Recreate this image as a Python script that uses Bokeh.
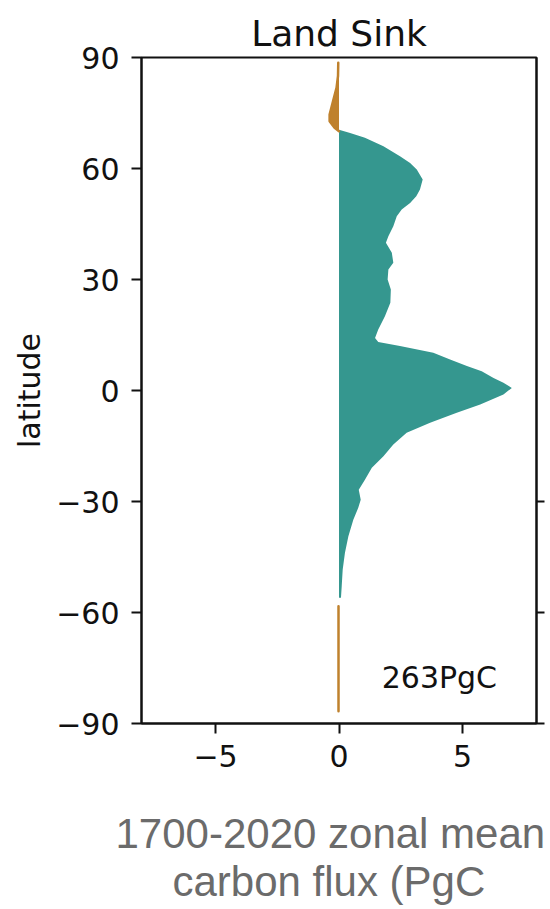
from bokeh.plotting import figure
from bokeh.models import Range1d, FixedTicker, LinearAxis, Label, Title
from bokeh.embed import file_html
from bokeh.resources import INLINE

# ---- data ----
sink_lat = [70.5, 69.6, 68.3, 66.0, 63.3, 61.5, 59.7, 57.0, 54.3, 52.5, 50.7, 48.9,
            47.1, 44.4, 41.7, 39.9, 37.2, 34.5, 32.7, 30.0, 27.3, 23.7, 20.1, 16.5,
            14.2, 13.1, 12.0, 10.2, 8.4, 6.6, 5.2, 3.4, 2.1, 0.7, -1.1, -3.8, -6.0,
            -8.7, -11.4, -14.6, -17.8, -20.9, -24.1, -26.8, -29.5, -31.7, -34.9,
            -39.4, -43.9, -48.4, -52.9, -56.0]
sink_flux = [0.0, 0.45, 1.05, 1.8, 2.47, 2.88, 3.15, 3.39, 3.28, 3.13, 2.88, 2.54,
             2.34, 2.2, 2.0, 1.9, 2.14, 2.2, 2.0, 1.97, 2.1, 2.08, 1.86, 1.59,
             1.46, 1.59, 2.47, 3.82, 4.5, 5.18, 5.78, 6.26, 6.66, 7.0, 6.66, 5.72, 4.77,
             3.69, 2.74, 2.2, 1.8, 1.33, 1.05, 0.8, 0.88, 0.78, 0.58,
             0.38, 0.24, 0.15, 0.11, 0.08]
source_n_lat = [88.6, 85.0, 81.8, 78.2, 74.6, 72.8, 71.0, 70.1]
source_n_flux = [-0.03, -0.04, -0.1, -0.24, -0.38, -0.38, -0.18, 0.0]
source_s_lat = [-58.3, -65.0, -72.0, -79.0, -86.7]
source_s_flux = [-0.02, -0.02, -0.02, -0.02, -0.02]

x_ticks = [-5, 0, 5]
y_ticks = [-90, -60, -30, 0, 30, 60, 90]
right_ticks = [-90, -60, -30]
title_text = "Land Sink"
total_text = "263PgC"
caption_lines = ["1700-2020 zonal mean", "carbon flux (PgC"]

TEAL = "#35978f"
ORANGE = "#bf812d"
FONT = "DejaVu Sans"
INK = "#111111"

p = figure(width=549, height=908, x_range=Range1d(-8, 8), y_range=Range1d(-90, 90),
           output_backend="svg", toolbar_location=None,
           min_border_left=141, min_border_right=13, min_border_top=57,
           min_border_bottom=185)
p.background_fill_color = "white"
p.border_fill_color = "white"
p.grid.visible = False
p.outline_line_color = INK
p.outline_line_width = 2
p.outline_line_alpha = 1

p.title.text = title_text
p.title.align = "center"
p.title.vertical_align = "top"
p.title.text_font = FONT
p.title.text_font_size = "36px"
p.title.text_font_style = "normal"
p.title.text_color = INK
p.title.standoff = 4

# fills
p.harea(x1=0, x2=sink_flux, y=sink_lat, fill_color=TEAL, fill_alpha=1)
p.harea(x1=source_n_flux, x2=0, y=source_n_lat, fill_color=ORANGE, fill_alpha=1)
p.line(x=source_n_flux, y=source_n_lat, line_color=ORANGE, line_width=2.5, line_cap="round")
p.harea(x1=source_s_flux, x2=0, y=source_s_lat, fill_color=ORANGE, fill_alpha=1)
p.line(x=source_s_flux, y=source_s_lat, line_color=ORANGE, line_width=2.5, line_cap="round")

def style_axis(ax):
    ax.axis_line_width = 2
    ax.axis_line_color = INK
    ax.major_tick_line_width = 2
    ax.major_tick_line_color = INK
    ax.major_tick_out = 10
    ax.major_tick_in = 0
    ax.minor_tick_line_color = None
    ax.major_label_text_font = FONT
    ax.major_label_text_font_size = "30px"
    ax.major_label_text_color = INK

xa = p.xaxis[0]
style_axis(xa)
xa.ticker = FixedTicker(ticks=x_ticks)
xa.major_label_overrides = {t: (str(t).replace("-", "\u2212")) for t in x_ticks}
xa.major_label_standoff = 11

ya = p.yaxis[0]
style_axis(ya)
ya.ticker = FixedTicker(ticks=y_ticks)
ya.major_label_overrides = {t: (str(t).replace("-", "\u2212")) for t in y_ticks}
ya.major_label_standoff = 12
ya.axis_label = "latitude"
ya.axis_label_text_font = FONT
ya.axis_label_text_font_size = "30px"
ya.axis_label_text_font_style = "normal"
ya.axis_label_text_color = INK
ya.axis_label_standoff = 6

ra = LinearAxis(ticker=FixedTicker(ticks=right_ticks))
style_axis(ra)
ra.major_tick_out = 8
ra.major_label_text_font_size = "0px"
ra.major_label_overrides = {t: "" for t in right_ticks}
p.add_layout(ra, "right")

p.add_layout(Label(x=1.73, y=-77.5, text=total_text, text_font=FONT,
                   text_font_size="30px", text_color=INK,
                   text_align="left", text_baseline="alphabetic"))

# spacer between the tick labels and the caption
p.add_layout(Title(text=" ", text_font_size="1px", standoff=35), "below")
cap_offsets = [-26, 31]
cap_standoffs = [0, -2]
for txt, off, so in zip(caption_lines, cap_offsets, cap_standoffs):
    t = Title(text=txt, align="left", text_font="Liberation Sans",
              text_font_size="42px", text_font_style="normal",
              text_color="#6b6b6b", offset=off, standoff=so)
    p.add_layout(t, "below")

open("out.html", "w").write(file_html(p, INLINE))
